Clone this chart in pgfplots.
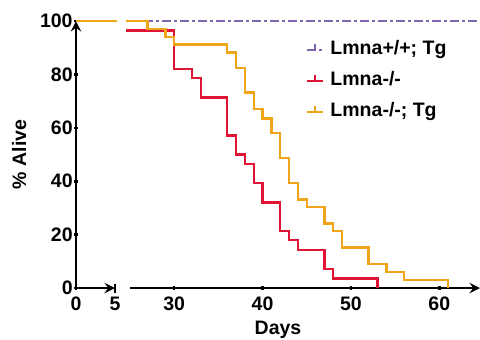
\documentclass[border=0pt]{standalone}
\usepackage{fontspec}
\setmainfont{Liberation Sans}
\usepackage{pgfplots}
\pgfplotsset{compat=1.18}
\definecolor{cpur}{RGB}{128,100,180}
\definecolor{cred}{RGB}{224,20,52}
\definecolor{cora}{RGB}{240,165,25}
\begin{document}
\begin{tikzpicture}[font=\fontsize{9.75}{11.7}\selectfont\bfseries]
\pgfplotsset{
  common/.style={scale only axis, height=133.5pt, ymin=0, ymax=100, clip=false,
    axis line style={line width=1.3pt,-}, tick style={line width=1.3pt, black},
    tick align=outside, major tick length=2pt,
    tick label style={font=\fontsize{9.75}{11.7}\selectfont\bfseries},
    /pgf/number format/assume math mode=true,
    legend image code/.code={\draw[##1,line width=1.2pt] (0pt,0pt) -- (8pt,0pt); \draw[##1,solid,line width=1.2pt] (4pt,0pt) -- (4pt,3pt);},
  },
  purp/.style={cpur, line width=1.2pt, dash pattern=on 4.5pt off 1.5pt on 1.5pt off 1.5pt},
  redl/.style={cred, line width=1.2pt},
  oral/.style={cora, line width=1.2pt},
}
\begin{axis}[common, at={(38pt,25.5pt)}, anchor=south west, width=19.5pt,
  xmin=0, xmax=5, axis x line=bottom, axis y line=left,
  xtick={0,5}, ytick={0,20,40,60,80,100},
  yticklabel style={inner sep=0.5pt}]
\addplot[purp, const plot mark left] coordinates {(0,100)(5.3,100)};
\addplot[redl, const plot mark left] coordinates {(0,100)(5.3,100)};
\addplot[oral, const plot mark left] coordinates {(0,100)(5.3,100)};
\draw[line width=1.3pt] (axis cs:5,0) ++(0,-2.25pt) -- ++(0,4.5pt);
\end{axis}
\begin{axis}[common, at={(65pt,25.5pt)}, anchor=south west, width=175pt,
  xmin=25, xmax=64.6, axis x line=bottom, axis y line=none,
  xtick={30,40,50,60},
  legend style={draw=none, fill=none, at={(0.502,0.776)}, anchor=west, inner sep=0pt,
    row sep=4.5pt, nodes={inner sep=1pt, text height=7pt, text depth=2pt, font=\fontsize{9.75}{11.7}\selectfont\bfseries},
    /tikz/every odd column/.style={},
    /tikz/every even column/.style={column sep=0pt}},
  legend cell align=left]
\addplot[purp, const plot mark left] coordinates {(24.6,100)(66,100)};
\addlegendentry{\hspace{2pt}Lmna+/+; Tg}
\addplot[redl, const plot mark left] coordinates {(24.6,96.4)(30,82.1)(32,78.6)(33,71.4)(36,57.1)(37,50)(38,46.4)(39,39.3)(40,32.1)(42,21.4)(43,17.9)(44,14.3)(47,7.1)(48,3.6)(53,0)};
\addlegendentry{\hspace{2pt}Lmna-/-}
\addplot[oral, const plot mark left] coordinates {(24.6,100)(27,97.1)(29,94.1)(30,91.2)(36,88.2)(37,82.4)(38,73.2)(39,67)(40,63.5)(41,58)(42,48.6)(43,39.4)(44,33.2)(45,30.3)(47,24.2)(48,21.3)(49,15.1)(52,9)(54,6)(56,3.1)(61,0)};
\addlegendentry{\hspace{2pt}Lmna-/-; Tg}
\draw[line width=1.3pt] (axis cs:25,0) ++(0,-2.25pt) -- ++(0,4.5pt);
\end{axis}
\node[rotate=90, anchor=base] at (13pt,92.25pt) {\% Alive};
\node[anchor=base] at (139pt,2.5pt) {Days};
\pgfresetboundingbox
\path (0,0) rectangle (240pt,169.5pt);
\end{tikzpicture}
\end{document}
